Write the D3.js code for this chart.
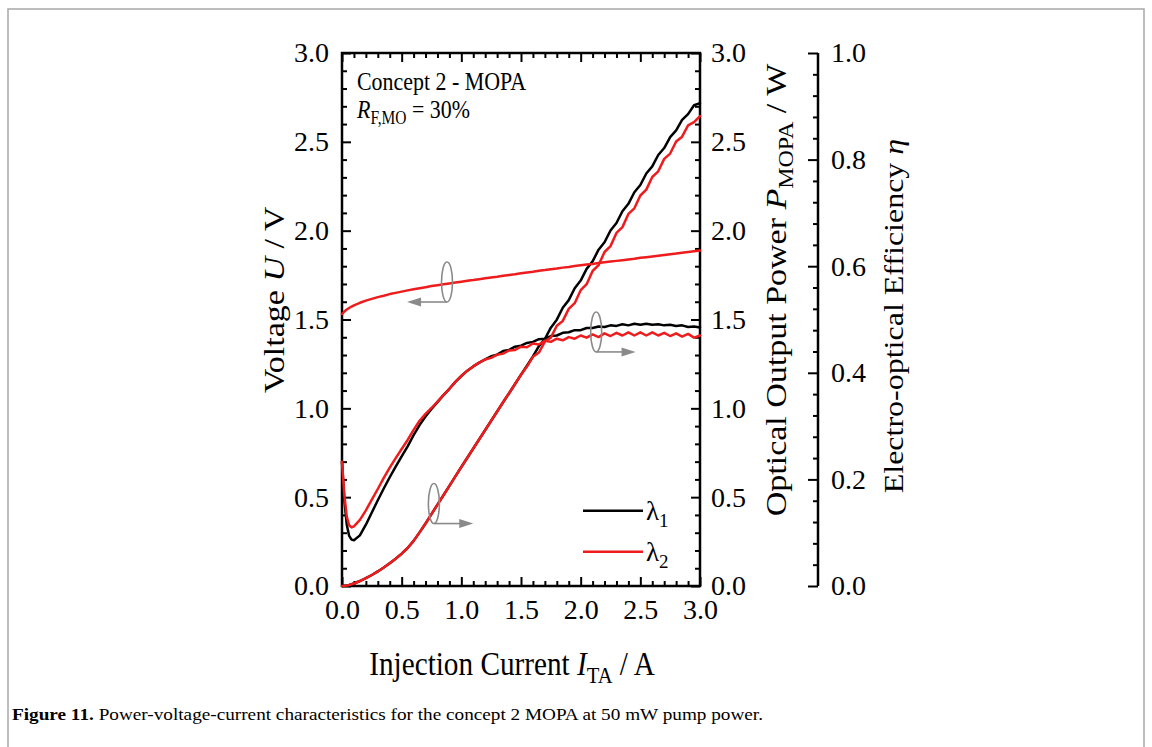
<!DOCTYPE html>
<html>
<head>
<meta charset="utf-8">
<script src="https://cdn.jsdelivr.net/npm/d3@7"></script>
<style>
  body { margin: 0; background: #fff; }
  text { font-family: "Liberation Serif", "Times New Roman", serif; fill: #000; }
</style>
</head>
<body>
<div id="chart"></div>
<script>
// injection current I_TA / A
const current = [0, 0.02, 0.04, 0.06, 0.08, 0.10, 0.15, 0.20, 0.25, 0.30, 0.35, 0.40, 0.45, 0.50,
  0.55, 0.60, 0.65, 0.70, 0.75, 0.80, 0.85, 0.90, 0.95, 1.00, 1.05, 1.10, 1.15, 1.20, 1.25, 1.30,
  1.35, 1.40, 1.45, 1.50, 1.55, 1.60, 1.65, 1.70, 1.75, 1.80, 1.85, 1.90, 1.95, 2.00, 2.05, 2.10,
  2.15, 2.20, 2.25, 2.30, 2.35, 2.40, 2.45, 2.50, 2.55, 2.60, 2.65, 2.70, 2.75, 2.80, 2.85, 2.90,
  2.95, 3.00];

// voltage U / V
const voltage = [1.530, 1.545, 1.556, 1.565, 1.573, 1.580, 1.594, 1.606, 1.616, 1.626, 1.634, 1.643,
  1.650, 1.657, 1.664, 1.670, 1.676, 1.682, 1.688, 1.693, 1.698, 1.703, 1.708, 1.713, 1.718, 1.722,
  1.727, 1.732, 1.737, 1.741, 1.746, 1.751, 1.755, 1.760, 1.765, 1.769, 1.774, 1.778, 1.783, 1.787,
  1.792, 1.796, 1.801, 1.805, 1.809, 1.813, 1.818, 1.822, 1.826, 1.830, 1.834, 1.838, 1.842, 1.847,
  1.851, 1.855, 1.859, 1.863, 1.867, 1.871, 1.876, 1.880, 1.884, 1.888];

// optical output power P_MOPA / W
const powerL1 = [0.000, 0.001, 0.003, 0.006, 0.010, 0.014, 0.028, 0.044, 0.062, 0.082, 0.104, 0.128,
  0.154, 0.182, 0.214, 0.254, 0.302, 0.352, 0.405, 0.458, 0.511, 0.564, 0.617, 0.670, 0.722, 0.774,
  0.826, 0.878, 0.930, 0.982, 1.034, 1.085, 1.137, 1.189, 1.240, 1.292, 1.350, 1.390, 1.454, 1.499,
  1.566, 1.609, 1.676, 1.719, 1.785, 1.827, 1.893, 1.935, 2.001, 2.043, 2.109, 2.151, 2.216, 2.257,
  2.322, 2.362, 2.426, 2.465, 2.527, 2.564, 2.623, 2.656, 2.706, 2.718];
const powerL2 = [0.000, 0.001, 0.003, 0.006, 0.010, 0.014, 0.028, 0.044, 0.062, 0.082, 0.104, 0.128,
  0.154, 0.182, 0.214, 0.254, 0.302, 0.352, 0.405, 0.458, 0.511, 0.564, 0.617, 0.670, 0.722, 0.774,
  0.826, 0.878, 0.930, 0.982, 1.034, 1.085, 1.137, 1.189, 1.235, 1.290, 1.314, 1.376, 1.398, 1.465,
  1.492, 1.560, 1.592, 1.665, 1.699, 1.773, 1.806, 1.880, 1.913, 1.987, 2.020, 2.094, 2.126, 2.198,
  2.231, 2.302, 2.334, 2.404, 2.434, 2.502, 2.529, 2.593, 2.611, 2.645];

// electro-optical efficiency eta
const effL1 = [0.233, 0.160, 0.115, 0.094, 0.087, 0.086, 0.095, 0.115, 0.138, 0.161, 0.183, 0.204,
  0.224, 0.243, 0.262, 0.283, 0.302, 0.318, 0.332, 0.345, 0.358, 0.370, 0.383, 0.394, 0.404, 0.412,
  0.419, 0.425, 0.431, 0.434, 0.441, 0.443, 0.449, 0.451, 0.456, 0.458, 0.463, 0.464, 0.469, 0.470,
  0.475, 0.476, 0.480, 0.480, 0.484, 0.484, 0.487, 0.486, 0.489, 0.488, 0.491, 0.489, 0.492, 0.490,
  0.492, 0.490, 0.491, 0.489, 0.490, 0.488, 0.489, 0.486, 0.487, 0.485];
const effL2 = [0.233, 0.170, 0.130, 0.114, 0.110, 0.112, 0.124, 0.142, 0.162, 0.182, 0.203, 0.222,
  0.240, 0.257, 0.274, 0.293, 0.310, 0.323, 0.334, 0.346, 0.358, 0.370, 0.383, 0.394, 0.404, 0.412,
  0.419, 0.425, 0.428, 0.434, 0.436, 0.442, 0.443, 0.449, 0.448, 0.455, 0.453, 0.460, 0.458, 0.464,
  0.461, 0.467, 0.464, 0.470, 0.466, 0.472, 0.467, 0.474, 0.469, 0.475, 0.470, 0.476, 0.470, 0.476,
  0.470, 0.476, 0.470, 0.475, 0.469, 0.474, 0.468, 0.473, 0.466, 0.470];

const xTicks = [0, 0.5, 1.0, 1.5, 2.0, 2.5, 3.0];
const yTicks = [0, 0.5, 1.0, 1.5, 2.0, 2.5, 3.0];
const effTicks = [0, 0.2, 0.4, 0.6, 0.8, 1.0];

// rotating-ellipse markers: which axis a curve belongs to
const markers = [
  { cx: 0.88, cy: 1.711, tip: 0.545 },  // voltage -> left
  { cx: 2.13, cy: 1.430, tip: 2.46 },   // efficiency -> right
  { cx: 0.77, cy: 0.464, tip: 1.10 }    // power -> right
];

const width = 1152, height = 747;
const red = "#ee1c1c", grey = "#8a8a8a";

const svg = d3.select("#chart").append("svg")
  .attr("width", width).attr("height", height);

// figure frame
svg.append("path")
  .attr("d", "M8,747V9H1144V747")
  .attr("fill", "none").attr("stroke", "#a8a8a8").attr("stroke-width", 1.5);

const x = d3.scaleLinear().domain([0, 3]).range([342, 700]);
const yV = d3.scaleLinear().domain([0, 3]).range([586, 53]);
const yP = d3.scaleLinear().domain([0, 3]).range([586, 53]);
const yE = d3.scaleLinear().domain([0, 1]).range([586, 53]);

const fmt = d3.format(".1f");
const tickFont = 28;

function styleAxis(g) {
  g.select(".domain").remove();
  g.selectAll(".tick line").attr("stroke", "#000").attr("stroke-width", 2);
  g.selectAll(".tick text").style("font-family", "Liberation Serif").style("font-size", tickFont + "px");
}

const minorX = d3.range(0, 3.001, 0.1).filter(v => Math.abs(v * 2 - Math.round(v * 2)) > 1e-6);
const minorE = d3.range(0, 1.001, 0.04).filter(v => Math.abs(v * 5 - Math.round(v * 5)) > 1e-6);

// bottom
svg.append("g").attr("transform", "translate(0,586)")
  .call(d3.axisBottom(x).tickValues(xTicks).tickFormat(fmt).tickSize(-9).tickPadding(13)).call(styleAxis);
svg.append("g").attr("transform", "translate(0,586)")
  .call(d3.axisBottom(x).tickValues(minorX).tickFormat("").tickSize(-5)).call(styleAxis);
// top
svg.append("g").attr("transform", "translate(0,53)")
  .call(d3.axisTop(x).tickValues(xTicks).tickFormat("").tickSize(-9)).call(styleAxis);
svg.append("g").attr("transform", "translate(0,53)")
  .call(d3.axisTop(x).tickValues(minorX).tickFormat("").tickSize(-5)).call(styleAxis);
// left
svg.append("g").attr("transform", "translate(342,0)")
  .call(d3.axisLeft(yV).tickValues(yTicks).tickFormat(fmt).tickSize(-9).tickPadding(13)).call(styleAxis);
svg.append("g").attr("transform", "translate(342,0)")
  .call(d3.axisLeft(yV).tickValues(minorX).tickFormat("").tickSize(-5)).call(styleAxis);
// right (power)
svg.append("g").attr("transform", "translate(700,0)")
  .call(d3.axisRight(yP).tickValues(yTicks).tickFormat(fmt).tickSize(-9).tickPadding(11)).call(styleAxis);
svg.append("g").attr("transform", "translate(700,0)")
  .call(d3.axisRight(yP).tickValues(minorX).tickFormat("").tickSize(-5)).call(styleAxis);
// offset efficiency axis
svg.append("g").attr("transform", "translate(818,0)")
  .call(d3.axisRight(yE).tickValues(effTicks).tickFormat(fmt).tickSize(-10).tickPadding(13)).call(styleAxis);
svg.append("g").attr("transform", "translate(818,0)")
  .call(d3.axisRight(yE).tickValues(minorE).tickFormat("").tickSize(-5)).call(styleAxis);

// frame lines
svg.append("rect").attr("x", 342).attr("y", 53).attr("width", 358).attr("height", 533)
  .attr("fill", "none").attr("stroke", "#000").attr("stroke-width", 2.5);
svg.append("line").attr("x1", 818).attr("x2", 818).attr("y1", 53).attr("y2", 586)
  .attr("stroke", "#000").attr("stroke-width", 2.5);

// curves
const pts = ys => current.map((c, i) => [c, ys[i]]);
const lineV = d3.line().x(d => x(d[0])).y(d => yV(d[1]));
const lineP = d3.line().x(d => x(d[0])).y(d => yP(d[1]));
const lineE = d3.line().x(d => x(d[0])).y(d => yE(d[1]));

const curves = svg.append("g").attr("fill", "none").attr("stroke-width", 2.5)
  .attr("stroke-linejoin", "round").attr("stroke-linecap", "round");
curves.append("path").attr("d", lineP(pts(powerL1))).attr("stroke", "#000");
curves.append("path").attr("d", lineE(pts(effL1))).attr("stroke", "#000");
curves.append("path").attr("d", lineP(pts(powerL2))).attr("stroke", red);
curves.append("path").attr("d", lineE(pts(effL2))).attr("stroke", red);
curves.append("path").attr("d", lineV(pts(voltage))).attr("stroke", red);

// ellipse markers with arrows
const mk = svg.append("g").attr("stroke", grey).attr("stroke-width", 1.6).attr("fill", "none");
markers.forEach(m => {
  const cx = x(m.cx), cy = yP(m.cy), tx = x(m.tip);
  mk.append("ellipse").attr("cx", cx).attr("cy", cy).attr("rx", 5.5).attr("ry", 20);
  const dir = tx < cx ? -1 : 1;
  mk.append("line").attr("x1", cx).attr("y1", cy + 20).attr("x2", tx - dir * 10).attr("y2", cy + 20);
  mk.append("path")
    .attr("d", `M${tx},${cy + 20}L${tx - dir * 14},${cy + 15.5}L${tx - dir * 14},${cy + 24.5}Z`)
    .attr("fill", grey).attr("stroke", "none");
});

// legend
const legend = [{ c: "#000", s: "1", y: 510.7 }, { c: red, s: "2", y: 551.7 }];
legend.forEach(l => {
  svg.append("line").attr("x1", 583).attr("x2", 643).attr("y1", l.y).attr("y2", l.y)
    .attr("stroke", l.c).attr("stroke-width", 2.5);
  const t = svg.append("text").attr("x", 646).attr("y", l.y + 9).style("font-size", "27px");
  t.append("tspan").text("λ");
  t.append("tspan").attr("dy", 7).style("font-size", "19px").text(l.s);
});

// inset labels
const sq = 0.86;
const c1 = svg.append("g").attr("transform", `translate(357,90) scale(${sq},1)`);
c1.append("text").style("font-size", "25.5px").text("Concept 2 - MOPA");
const c2 = svg.append("g").attr("transform", `translate(357,118) scale(${sq},1)`);
const rt = c2.append("text").style("font-size", "25.5px");
rt.append("tspan").style("font-style", "italic").text("R");
rt.append("tspan").attr("dy", 6).style("font-size", "18px").text("F,MO");
rt.append("tspan").attr("dy", -6).text(" = 30%");

// axis titles
const titleFont = 34;
function rotTitle(px, py, size, parts) {
  const g = svg.append("g").attr("transform", `translate(${px},${py}) scale(${sq},1) rotate(-90)`);
  const t = g.append("text").attr("text-anchor", "middle").style("font-size", size + "px");
  parts(t);
}
rotTitle(284, 300, titleFont, t => {
  t.append("tspan").text("Voltage ");
  t.append("tspan").style("font-style", "italic").text("U");
  t.append("tspan").text(" / V");
});
rotTitle(786, 290, titleFont, t => {
  t.append("tspan").text("Optical Output Power ");
  t.append("tspan").style("font-style", "italic").text("P");
  t.append("tspan").attr("dy", 8).style("font-size", "24px").text("MOPA");
  t.append("tspan").attr("dy", -8).text(" / W");
});
rotTitle(903, 316, 32, t => {
  t.append("tspan").text("Electro-optical Efficiency ");
  t.append("tspan").style("font-style", "italic").text("η");
});
const xt = svg.append("g").attr("transform", `translate(512,675) scale(${sq},1)`)
  .append("text").attr("text-anchor", "middle").style("font-size", titleFont + "px");
xt.append("tspan").text("Injection Current ");
xt.append("tspan").style("font-style", "italic").text("I");
xt.append("tspan").attr("dy", 8).style("font-size", "24px").text("TA");
xt.append("tspan").attr("dy", -8).text(" / A");

// caption
const cap = svg.append("text").attr("x", 12).attr("y", 720).style("font-size", "17px")
  .attr("textLength", 751).attr("lengthAdjust", "spacingAndGlyphs");
cap.append("tspan").style("font-weight", "bold").text("Figure 11.");
cap.append("tspan").text(" Power-voltage-current characteristics for the concept 2 MOPA at 50 mW pump power.");
</script>
</body>
</html>
